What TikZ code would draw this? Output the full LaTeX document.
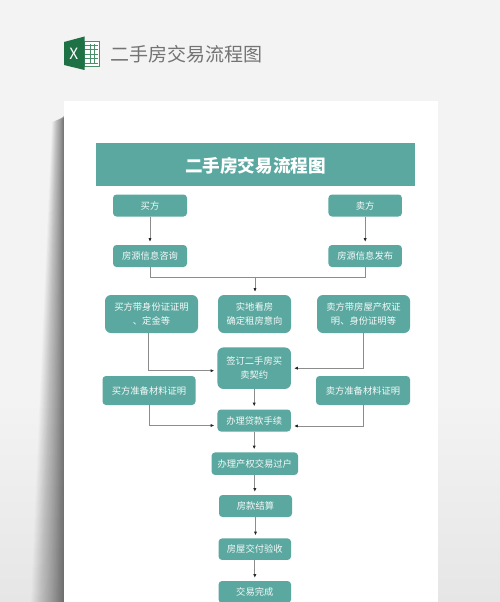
\documentclass[tikz,border=0pt]{standalone}
\usepackage{fontspec}
\setmainfont{Noto Sans CJK SC}
\usetikzlibrary{arrows.meta}
\definecolor{teal1}{HTML}{5BA8A0}
\definecolor{bgc}{HTML}{F3F3F3}
\definecolor{bgd}{HTML}{E6E6E6}
\definecolor{linec}{HTML}{8C8C8C}
\definecolor{xlgreen}{HTML}{1D7145}
\tikzset{
  x=1pt,y=-1pt,
  box/.style={fill=teal1,text=white!94!teal1,rounded corners=3.5pt,inner sep=0pt,align=center,
    font=\fontsize{9.3}{14.3}\selectfont},
  bigbox/.style={box,rounded corners=6pt},
  conn/.style={draw=linec,line width=0.75pt,-{Latex[length=3.6pt,width=3.2pt,color=black!85]},shorten >=3pt},
  plain/.style={draw=linec,line width=0.75pt},
}
\newcommand{\bx}[7][box]{\node[#1,minimum width=#4,minimum height=#5] (#2) at (#3) {#6};}
\begin{document}
\begin{tikzpicture}
\useasboundingbox (0,0) rectangle (500,602);
\fill[bgc] (0,0) rectangle (500,602);
\shade[top color=bgc,bottom color=bgd] (0,400) rectangle (500,602);
% shadow of the page: many faint layers that widen towards the bottom
\foreach \i in {1,...,40}{
  \pgfmathsetmacro{\tt}{\i/40}
  \pgfmathsetmacro{\ww}{pow(\tt,1.3)}
  \fill[black,opacity=0.016] (64,{115+3*\tt}) -- ({64-12*\ww},{116+6*\tt}) -- ({64-20*\ww},300) -- ({64-33*\ww},602) -- (64,602) -- cycle;
}
\fill[white] (64,101) rectangle (438,602);
% spreadsheet icon
\fill[white] (84,41) rectangle (99.5,66.5);
\draw[xlgreen!80,line width=0.6pt] (84,41) rectangle (99.5,66.5);
\foreach \yy in {45,49.5,54,58.5,63}{\draw[xlgreen!80,line width=0.9pt] (85,\yy) -- (98,\yy);}
\draw[xlgreen!80,line width=0.9pt] (90,44) -- (90,64) (94.5,44) -- (94.5,64);
\fill[xlgreen] (64,42) -- (84.5,36.5) -- (84.5,70) -- (64,65) -- cycle;
\node[text=white,inner sep=0pt,font=\fontsize{15.5}{15.5}\selectfont] (xl) at (73.7,53.5) {X};
% heading
\node[text=black!55,inner sep=0pt,anchor=west,font=\fontsize{19}{19}\selectfont] (head) at (110,54.5) {二手房交易流程图};
\node[fill=teal1,minimum width=319,minimum height=42.5,inner sep=0pt,text=white,font=\fontsize{17.6}{18}\selectfont\bfseries] (title) at (255.5,164.5) {\raisebox{0pt}[18pt][1.6pt]{二手房交易流程图}};
% boxes
\bx{buyer}{150,205.5}{74}{22}{买方}{}
\bx{seller}{365.2,205.5}{73.5}{22}{卖方}{}
\bx{ask}{150,256}{74}{22}{房源信息咨询}{}
\bx{pub}{365.2,256}{73.5}{22}{房源信息发布}{}
\bx[bigbox]{bdoc}{151.5,314}{93}{38}{买方带身份证证明\\、定金等}{}
\bx[bigbox]{see}{254.5,314}{73}{38}{实地看房\\确定租房意向}{}
\bx[bigbox]{sdoc}{363.5,314}{93}{38}{卖方带房屋产权证\\明、身份证明等}{}
\bx[bigbox]{sign}{254.2,368.2}{73.5}{41.5}{签订二手房买\\卖契约}{}
\bx[box]{bmat}{149,390.5}{93}{29}{买方准备材料证明}{}
\bx[box]{smat}{363,390.5}{94}{29}{卖方准备材料证明}{}
\bx{loan}{254.2,420.5}{73.5}{22}{办理贷款手续}{}
\bx{trans}{254.8,463.7}{86.5}{22.5}{办理产权交易过户}{}
\bx{pay}{255.5,506}{73}{22}{房款结算}{}
\bx{deliv}{254.8,549.2}{72.5}{21.5}{房屋交付验收}{}
\bx{done}{254.8,592}{72.5}{22}{交易完成}{}
% connectors
\coordinate (join) at (255,277.5);
\draw[conn] (buyer.south) -- (ask.north);
\draw[conn] (seller.south) -- (pub.north);
\draw[plain] (ask.south) |- (join) -| (pub.south);
\draw[conn] (join) -- (join |- see.north);
\draw[conn] ([xshift=-2.7pt]bdoc.south) |- ([yshift=-2.5pt]sign.west);
\draw[conn] (sdoc.south) |- (sign.east);
\draw[conn] (bmat.south) |- ([yshift=-5pt]loan.west);
\draw[conn] (smat.south) |- ([yshift=-5.5pt]loan.east);
\draw[conn] (sign.south) -- (loan.north);
\draw[conn] (loan.south) -- (loan.south |- trans.north);
\draw[conn] (trans.south) -- (trans.south |- pay.north);
\draw[conn] (pay.south) -- (pay.south |- deliv.north);
\draw[conn] (deliv.south) -- (done.north);
\end{tikzpicture}
\end{document}
